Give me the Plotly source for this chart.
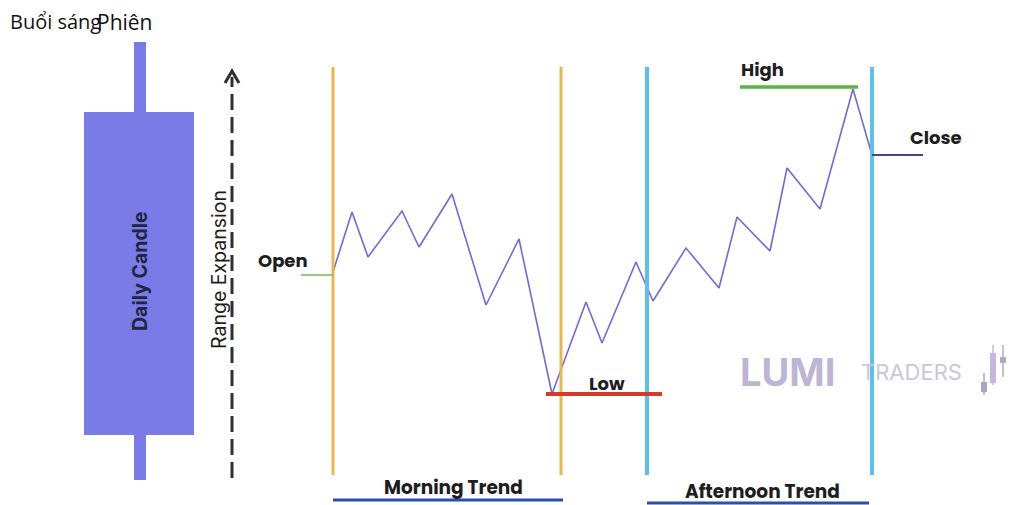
import plotly.graph_objects as go

# ---------------- data ----------------
# intraday path: time (px-scaled) and price (px-scaled, upward positive)
time_pts = [333, 352, 368, 402, 419, 452, 486, 519, 552, 586, 602, 636,
            653, 686, 719, 737, 770, 787, 820, 853, 872]
price_pts = [233, 293, 248, 294, 258, 311, 200, 266, 111, 203, 162, 243,
             204, 257, 217, 288, 254, 337, 296, 416, 350]

open_price = 230
low_price = 111
high_price = 418
close_price = 350

session_bounds = [333, 561, 647, 872]   # morning start/end, afternoon start/end
candle_body = [70, 393]                 # body bottom / top (price units)
candle_wick = [25, 463]

# watermark icon candles: x, wick low, wick high, body low, body high, colour
icon_x = [984, 993, 1003, 1012]
icon_wick_lo = [110, 120, 128, 122]
icon_wick_hi = [132, 160, 160, 140]
icon_body_lo = [113, 122, 142, 123]
icon_body_hi = [123, 152, 148, 136]
icon_col = ["#aea6be", "#c4b6de", "#b2a8c6", "#c4b6de"]

W, H = 1016, 505
OFF = 8  # page body margin
fig = go.Figure()

# price path
fig.add_trace(go.Scatter(x=time_pts, y=price_pts, mode="lines",
                         line=dict(color="#7367de", width=1.6),
                         hoverinfo="skip", showlegend=False))

shapes = []
# candle wick + body
shapes.append(dict(type="rect", x0=134, x1=146, y0=candle_wick[0], y1=candle_wick[1],
                   fillcolor="#7b7be8", line=dict(width=0), layer="below"))
shapes.append(dict(type="rect", x0=84, x1=194, y0=candle_body[0], y1=candle_body[1],
                   fillcolor="#7b7be8", line=dict(width=0), layer="below"))
# dashed range expansion arrow
shapes.append(dict(type="line", x0=232, x1=232, y0=27, y1=428,
                   line=dict(color="#2e2e33", width=3, dash="16px,7px")))
shapes.append(dict(type="path", path="M 225 422 L 232 434 L 239 422",
                   line=dict(color="#2e2e33", width=3)))
# session verticals
for i, xv in enumerate(session_bounds):
    col = "#e9b948" if i < 2 else "#5cc0ee"
    wdt = 3 if i < 2 else 4
    shapes.append(dict(type="line", x0=xv, x1=xv, y0=30, y1=438,
                       line=dict(color=col, width=wdt)))
# open / low / high / close markers
shapes.append(dict(type="line", x0=301, x1=333, y0=open_price, y1=open_price,
                   line=dict(color="#6cc05a", width=1.5)))
shapes.append(dict(type="line", x0=546, x1=662, y0=low_price, y1=low_price,
                   line=dict(color="#d23a2c", width=4)))
shapes.append(dict(type="line", x0=740, x1=858, y0=high_price, y1=high_price,
                   line=dict(color="#5cb43e", width=3.5)))
shapes.append(dict(type="line", x0=872, x1=923, y0=close_price, y1=close_price,
                   line=dict(color="#4b3f8e", width=2)))
# trend underlines
shapes.append(dict(type="line", x0=session_bounds[0], x1=563, y0=5, y1=5,
                   line=dict(color="#2a4fae", width=3)))
shapes.append(dict(type="line", x0=session_bounds[2], x1=869, y0=2, y1=2,
                   line=dict(color="#2a4fae", width=3)))
# watermark candle icon
for cx, lo, hi, b0, b1, c in zip(icon_x, icon_wick_lo, icon_wick_hi,
                                 icon_body_lo, icon_body_hi, icon_col):
    shapes.append(dict(type="line", x0=cx, x1=cx, y0=lo, y1=hi,
                       line=dict(color=c, width=1.5)))
    shapes.append(dict(type="rect", x0=cx - 3, x1=cx + 3, y0=b0, y1=b1,
                       fillcolor=c, line=dict(width=0)))

LBL = dict(family="Poppins, Inter, Lato, sans-serif", size=18, color="#1d1d22")
ann = []
def txt(x, y, s, font, **kw):
    d = dict(x=x, y=y, text=s, showarrow=False, font=font, xref="x", yref="y")
    d.update(kw)
    ann.append(d)

MT = dict(LBL, size=18.5)
txt(283, 245, "<b>Open</b>", LBL)
txt(607, 122, "<b>Low</b>", LBL)
txt(762, 436, "<b>High</b>", LBL)
txt(936, 368, "<b>Close</b>", LBL)
txt(453, 18, "<b>Morning Trend</b>", MT)
txt(762, 14, "<b>Afternoon Trend</b>", MT)
txt(140, 234, "<b>Daily Candle</b>", dict(family="Inter, Lato, sans-serif", size=19.5, color="#1f2640"),
    textangle=-90)
txt(219, 235, "Range Expansion", dict(family="Inter, Lato, sans-serif", size=19.5, color="#1d1d22"),
    textangle=-90)
txt(787, 133, "<b>LUMI</b>", dict(family="Inter, Lato, sans-serif", size=38, color="#bdb5d3"))
txt(911, 133, "TRADERS", dict(family="Inter, Lato, sans-serif", size=22, color="#cbc6e0"))
# top-left captions (overlapping, as in the reference)
txt(8, 505 - 21, "Buổi sáng", dict(family="Open Sans, sans-serif", size=20, color="#111"),
    xanchor="left")
txt(95, 505 - 22, "Phiên", dict(family="Open Sans, sans-serif", size=21, color="#111"),
    xanchor="left")

fig.update_layout(
    width=W - OFF, height=H - OFF,
    margin=dict(l=0, r=0, t=0, b=0),
    paper_bgcolor="white", plot_bgcolor="white",
    xaxis=dict(range=[OFF, W], visible=False, fixedrange=True),
    yaxis=dict(range=[0, H - OFF], visible=False, fixedrange=True),
    shapes=shapes, annotations=ann, showlegend=False,
)

fig.write_html("out.html")
